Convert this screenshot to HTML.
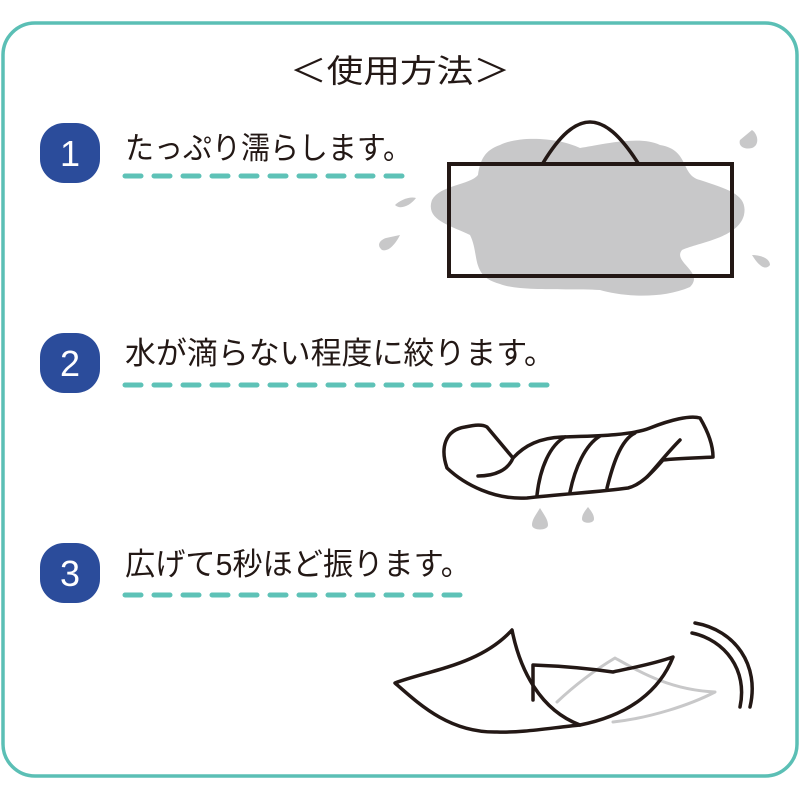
<!DOCTYPE html>
<html><head><meta charset="utf-8"><style>
html,body{margin:0;padding:0;background:#fff;width:800px;height:800px;overflow:hidden}
svg{display:block}
text{font-family:"Liberation Sans","Noto Sans CJK JP",sans-serif;fill:#231815}
</style></head><body>
<svg width="800" height="800" viewBox="0 0 800 800" xmlns="http://www.w3.org/2000/svg">
<rect x="3" y="23" width="794" height="753" rx="32" fill="#fff" stroke="#5bbfb5" stroke-width="3.5"/>
<text x="290" y="82" font-size="32" textLength="220" lengthAdjust="spacingAndGlyphs">＜使用方法＞</text>

<g fill="#2b4c9b">
<rect x="40" y="123" width="60" height="60" rx="24"/>
<rect x="40" y="333" width="60" height="60" rx="24"/>
<rect x="40" y="543" width="60" height="60" rx="24"/>
</g>
<g font-size="36" text-anchor="middle">
<text x="70" y="166" style="fill:#fff">1</text>
<text x="70" y="376" style="fill:#fff">2</text>
<text x="70" y="586" style="fill:#fff">3</text>
</g>

<text x="125" y="159" font-size="31" textLength="287" lengthAdjust="spacingAndGlyphs">たっぷり濡らします。</text>
<text x="125" y="364" font-size="31" textLength="430" lengthAdjust="spacingAndGlyphs">水が滴らない程度に絞ります。</text>
<text x="125" y="575" font-size="31" textLength="346" lengthAdjust="spacingAndGlyphs">広げて5秒ほど振ります。</text>

<g stroke="#5ec2b7" stroke-width="5" stroke-linecap="round" stroke-dasharray="16 13">
<line x1="125" y1="176" x2="414" y2="176"/>
<line x1="125" y1="385" x2="556" y2="385"/>
<line x1="125" y1="595" x2="472" y2="595"/>
</g>

<g fill="#c8c8c9">
<path d="M500,145 C520,135 560,138 580,148 C600,145 640,135 660,145 C690,150 680,175 700,180 C730,190 748,195 744,215 C738,238 700,242 682,250 C672,262 705,272 690,287 C660,300 620,296 600,290 C570,288 520,292 500,284 C470,276 480,255 470,235 C450,225 425,220 432,200 C440,185 470,185 478,175 C480,160 485,150 500,145 Z"/>
<path d="M752,130 C758,134 760,145 752,148 C744,150 738,146 740,140 Z"/>
<path d="M395,205 C400,200 410,196 416,198 C410,206 400,210 395,205 Z"/>
<path d="M400,235 C395,245 388,252 382,250 C376,245 380,240 386,238 Z"/>
<path d="M752,255 C760,255 770,258 770,265 C766,270 760,268 752,255 Z"/>
</g>
<rect x="449" y="164" width="283" height="112" fill="none" stroke="#231815" stroke-width="4"/>
<path d="M543,163 C560,135 575,122 590,122 C605,122 620,135 638,163" fill="none" stroke="#231815" stroke-width="3.5"/>

<g fill="none" stroke="#231815" stroke-width="3.5" stroke-linejoin="round" stroke-linecap="round">
<path d="M447,468 C440,448 445,430 465,427 C475,425 482,424 487,427 L513,458 C525,445 540,438 562,437 C590,436 630,436 650,428 C670,420 690,415 700,418 C710,435 713,448 713,457 C700,458 680,458 663,460 C650,475 640,485 628,488 C600,492 560,494 527,498 C495,500 465,485 447,468 Z"/>
<path d="M478,476 C495,476 508,470 513,458"/>
<path d="M537,495 C540,468 550,445 565,437"/>
<path d="M570,492 C575,468 585,445 600,436"/>
<path d="M607,488 C612,468 620,440 635,433"/>
<path d="M680,440 C668,452 658,465 647,477"/>
</g>
<g fill="#c8c8c9">
<path d="M540,508 C545,516 548,520 548,525 C548,531 532,531 532,525 C532,520 535,516 540,508 Z"/>
<path d="M588,507 C592,512 594,515 594,519 C594,524 582,524 582,519 C582,515 584,512 588,507 Z"/>
</g>

<g fill="none" stroke-linejoin="round" stroke-linecap="round">
<path d="M557,702 C575,685 595,670 615,658 C640,672 670,690 715,692 C690,705 650,718 613,722" stroke="#c8c8c9" stroke-width="3"/>
<path d="M395,683 C430,670 480,665 512,630 C520,670 540,710 580,725 C550,728 520,733 497,732 C450,733 420,705 395,683 Z" stroke="#231815" stroke-width="3.5" fill="#fff"/>
<path d="M533,700 L533,665 C560,666 585,668 613,672 C630,668 650,665 673,657 C660,690 630,715 580,725" stroke="#231815" stroke-width="3.5"/>
<path d="M695,623 C735,630 760,665 750,707" stroke="#231815" stroke-width="3.5"/>
<path d="M692,633 C725,640 748,670 740,707" stroke="#231815" stroke-width="3.5"/>
</g>
</svg>
</body></html>
